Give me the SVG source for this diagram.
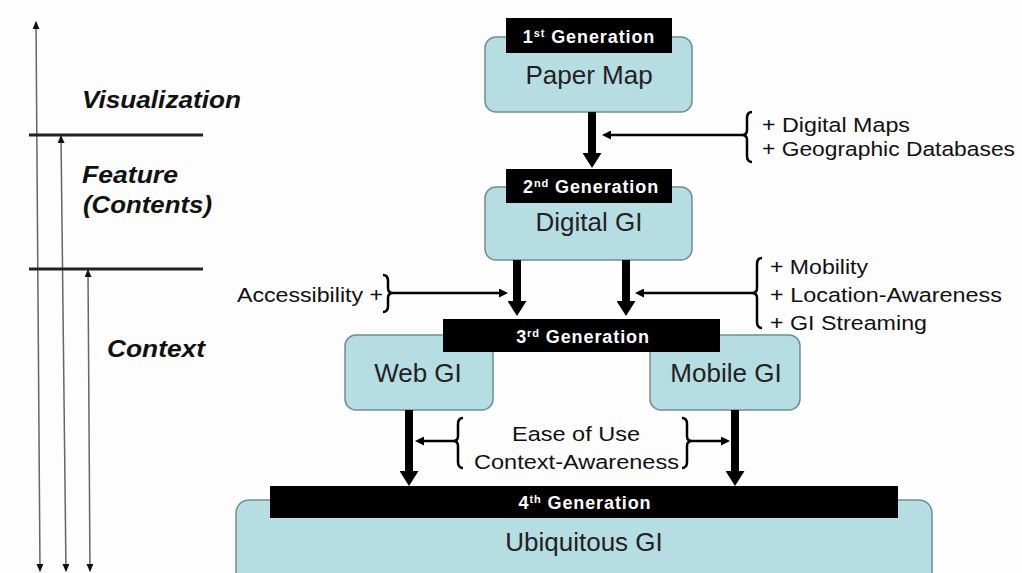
<svg xmlns="http://www.w3.org/2000/svg" width="1022" height="573" viewBox="0 0 1022 573">
  <style>
    .box { fill: #b6dde1; stroke: #6e8e91; stroke-width: 1.5; }
    .bar { fill: #000; }
    .bar-text { font-family: "Liberation Sans", Arial, sans-serif; font-weight: bold; font-size: 18px; letter-spacing: 0.9px; fill: #fff; text-anchor: middle; }
    .sup { font-size: 11px; }
    .name { font-family: "Liberation Sans", Arial, sans-serif; font-size: 26px; fill: #222; text-anchor: middle; }
    .note { font-family: "Liberation Sans", Arial, sans-serif; font-size: 20.5px; fill: #111; }
    .layer { font-family: "Liberation Sans", Arial, sans-serif; font-size: 24px; font-weight: bold; font-style: italic; fill: #111; }
    .thick { stroke: #000; stroke-width: 8; fill: none; marker-end: url(#bigHead); }
    .thin { stroke: #000; stroke-width: 2.5; fill: none; marker-end: url(#smallHead); }
    .brace { stroke: #000; stroke-width: 2.5; fill: none; }
    .axis { stroke: #666; stroke-width: 1.5; fill: none; }
    .divider { stroke: #222; stroke-width: 3; }
  </style>
  <defs>
    <marker id="bigHead" viewBox="0 0 15 19" refX="0" refY="9.5" markerWidth="15" markerHeight="19" markerUnits="userSpaceOnUse" orient="auto">
      <path d="M0,0 L15,9.5 L0,19 z" fill="#000"/>
    </marker>
    <marker id="smallHead" viewBox="0 0 9 9" refX="1" refY="4.5" markerWidth="9" markerHeight="9" markerUnits="userSpaceOnUse" orient="auto">
      <path d="M0,0 L9,4.5 L0,9 z" fill="#000"/>
    </marker>
    <marker id="axisHead" viewBox="0 0 8 7" refX="7" refY="3.5" markerWidth="8" markerHeight="7" markerUnits="userSpaceOnUse" orient="auto-start-reverse">
      <path d="M0,0 L8,3.5 L0,7 z" fill="#111"/>
    </marker>
  </defs>

  <rect width="1022" height="573" fill="#fdfdfd"/>

  <!-- layer scale on the left -->
  <g id="layers">
    <line class="axis" x1="36" y1="22" x2="40" y2="571" marker-start="url(#axisHead)" marker-end="url(#axisHead)"/>
    <line class="axis" x1="61" y1="136" x2="66" y2="571" marker-start="url(#axisHead)" marker-end="url(#axisHead)"/>
    <line class="axis" x1="88" y1="270" x2="90" y2="571" marker-start="url(#axisHead)" marker-end="url(#axisHead)"/>
    <line class="divider" x1="29" y1="135" x2="203" y2="135"/>
    <line class="divider" x1="29" y1="269" x2="203" y2="269"/>
    <text class="layer" x="82" y="108" textLength="159" lengthAdjust="spacingAndGlyphs">Visualization</text>
    <text class="layer" x="82" y="183" textLength="96" lengthAdjust="spacingAndGlyphs">Feature</text>
    <text class="layer" x="83" y="213" textLength="129" lengthAdjust="spacingAndGlyphs">(Contents)</text>
    <text class="layer" x="107" y="357" textLength="98" lengthAdjust="spacingAndGlyphs">Context</text>
  </g>

  <!-- 1st generation -->
  <g id="gen1">
    <rect class="box" x="485" y="37" width="207" height="75" rx="11"/>
    <rect class="bar" x="506" y="18" width="166" height="35"/>
    <text class="bar-text" x="589" y="43">1<tspan class="sup" dy="-6">st</tspan><tspan dy="6"> Generation</tspan></text>
    <text class="name" x="589" y="84">Paper Map</text>
  </g>

  <!-- 2nd generation -->
  <g id="gen2">
    <rect class="box" x="485" y="187" width="207" height="73" rx="11"/>
    <rect class="bar" x="506" y="169" width="166" height="34"/>
    <text class="bar-text" x="591" y="193">2<tspan class="sup" dy="-6">nd</tspan><tspan dy="6"> Generation</tspan></text>
    <text class="name" x="589" y="231">Digital GI</text>
  </g>

  <!-- 3rd generation -->
  <g id="gen3">
    <rect class="box" x="345" y="335" width="148" height="75" rx="11"/>
    <rect class="box" x="650" y="335" width="150" height="75" rx="11"/>
    <rect class="bar" x="443" y="319" width="277" height="33"/>
    <text class="bar-text" x="583" y="343">3<tspan class="sup" dy="-6">rd</tspan><tspan dy="6"> Generation</tspan></text>
    <text class="name" x="418" y="382">Web GI</text>
    <text class="name" x="726" y="382">Mobile GI</text>
  </g>

  <!-- 4th generation -->
  <g id="gen4">
    <rect class="box" x="236" y="500" width="696" height="100" rx="13"/>
    <rect class="bar" x="270" y="486" width="628" height="32"/>
    <text class="bar-text" x="585" y="509">4<tspan class="sup" dy="-6">th</tspan><tspan dy="6"> Generation</tspan></text>
    <text class="name" x="584" y="551">Ubiquitous GI</text>
  </g>

  <!-- added capabilities -->
  <g id="labels">
    <text class="note" x="762" y="132" textLength="148" lengthAdjust="spacingAndGlyphs">+ Digital Maps</text>
    <text class="note" x="762" y="156" textLength="253" lengthAdjust="spacingAndGlyphs">+ Geographic Databases</text>
    <text class="note" x="237" y="302" textLength="146" lengthAdjust="spacingAndGlyphs">Accessibility +</text>
    <text class="note" x="770" y="274" textLength="98" lengthAdjust="spacingAndGlyphs">+ Mobility</text>
    <text class="note" x="770" y="302" textLength="232" lengthAdjust="spacingAndGlyphs">+ Location-Awareness</text>
    <text class="note" x="770" y="330" textLength="157" lengthAdjust="spacingAndGlyphs">+ GI Streaming</text>
    <text class="note" x="512" y="441" textLength="128" lengthAdjust="spacingAndGlyphs">Ease of Use</text>
    <text class="note" x="474" y="469" textLength="205" lengthAdjust="spacingAndGlyphs">Context-Awareness</text>
  </g>

  <!-- connectors -->
  <g id="connectors">
    <line class="thick" x1="592" y1="112" x2="592" y2="153"/>
    <line class="thick" x1="517" y1="260" x2="517" y2="301"/>
    <line class="thick" x1="626" y1="260" x2="626" y2="301"/>
    <line class="thick" x1="409" y1="410" x2="409" y2="471"/>
    <line class="thick" x1="735" y1="410" x2="735" y2="471"/>

    <line class="thin" x1="742" y1="135" x2="610" y2="135"/>
    <line class="thin" x1="393" y1="293" x2="500" y2="293"/>
    <line class="thin" x1="752" y1="293" x2="643" y2="293"/>
    <line class="thin" x1="453" y1="441" x2="423" y2="441"/>
    <line class="thin" x1="692" y1="441" x2="722" y2="441"/>

    <path class="brace" d="M752,112 Q747,112 747,118 L747,130 Q747,135 742,135 Q747,135 747,140 L747,156 Q747,162 752,162"/>
    <path class="brace" d="M383,275 Q388,275 388,281 L388,288 Q388,293 393,293 Q388,293 388,298 L388,306 Q388,312 383,312"/>
    <path class="brace" d="M762,258 Q757,258 757,264 L757,288 Q757,293 752,293 Q757,293 757,298 L757,322 Q757,328 762,328"/>
    <path class="brace" d="M463,418 Q458,418 458,424 L458,436 Q458,441 453,441 Q458,441 458,446 L458,462 Q458,468 463,468"/>
    <path class="brace" d="M682,418 Q687,418 687,424 L687,436 Q687,441 692,441 Q687,441 687,446 L687,462 Q687,468 682,468"/>
  </g>
</svg>
